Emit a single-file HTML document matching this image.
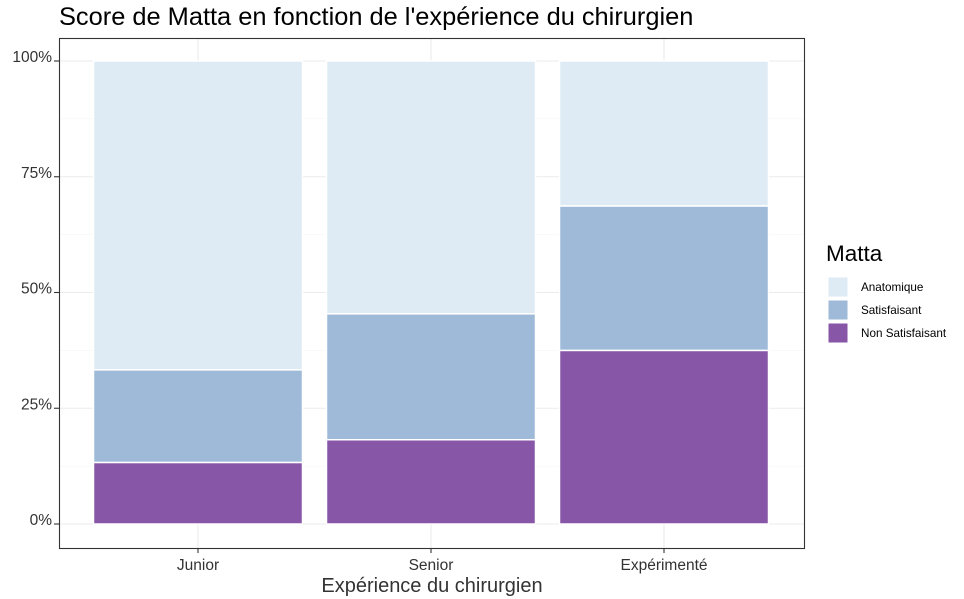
<!DOCTYPE html>
<html><head><meta charset="utf-8"><style>
body{margin:0;background:#fff;}
svg{font-family:"Liberation Sans",sans-serif;display:block}
</style></head><body>
<svg id="chart" width="964" height="599">
<text x="59" y="25" font-size="25.4" fill="#000">Score de Matta en fonction de l'expérience du chirurgien</text>
<g id="grid"></g>
<g id="bars"></g>
<rect x="59.5" y="38.5" width="745" height="510" fill="none" stroke="#333" stroke-width="1.1"/>
<g id="axes"></g>
<text x="432" y="592" font-size="20" fill="#333" text-anchor="middle">Expérience du chirurgien</text>
<g id="legend"></g>
</svg>
<script>
const categories = ["Junior","Senior","Expérimenté"];
const nonSatisfaisant = [13.3, 18.2, 37.5];
const satisfaisant = [20.0, 27.2, 31.2];
const anatomique = [66.7, 54.6, 31.3];
const yTicks = [0,25,50,75,100];
const yTickLabels = ["0%","25%","50%","75%","100%"];
const seriesNames = ["Anatomique","Satisfaisant","Non Satisfaisant"];
const colors = {"Anatomique":"#deebf4","Satisfaisant":"#9ebad8","Non Satisfaisant":"#8856a7"};

const NS="http://www.w3.org/2000/svg";
const y0=524, y100=61, band=233;
const yS=v=>y0-(y0-y100)*v/100;
const xC=i=>198+band*i;
function mk(tag,attrs,parent){const e=document.createElementNS(NS,tag);for(const k in attrs)e.setAttribute(k,attrs[k]);parent.appendChild(e);return e;}
const grid=document.getElementById('grid'),bars=document.getElementById('bars'),axes=document.getElementById('axes'),legend=document.getElementById('legend');
mk('rect',{x:59,y:38,width:745,height:510,fill:'#fff'},grid);
for(let i=0;i<yTicks.length-1;i++){const m=(yTicks[i]+yTicks[i+1])/2;const l=mk('line',{x1:59,x2:804,y1:yS(m),y2:yS(m),stroke:'#f3f3f3','stroke-width':0.6},grid);}
yTicks.forEach((t,i)=>{
 const l=mk('line',{x1:59,x2:804,y1:yS(t),y2:yS(t),stroke:'#ebebeb','stroke-width':1.1},grid);
 
 const tk=mk('line',{x1:54,x2:59,y1:yS(t),y2:yS(t),stroke:'#333','stroke-width':1.1},axes);
 
 const tx=mk('text',{x:52,y:yS(t)+1,'font-size':15.5,fill:'#333','text-anchor':'end'},axes);tx.textContent=yTickLabels[i];
 
});
categories.forEach((c,i)=>{
 const l=mk('line',{x1:xC(i),x2:xC(i),y1:38,y2:548,stroke:'#ebebeb','stroke-width':1.1},grid);
 
 const tk=mk('line',{x1:xC(i),x2:xC(i),y1:548,y2:553,stroke:'#333','stroke-width':1.1},axes);
 
 const tx=mk('text',{x:xC(i),y:570,'font-size':15.5,fill:'#333','text-anchor':'middle'},axes);tx.textContent=c;
 
 const segs=[["Non Satisfaisant",nonSatisfaisant[i]],["Satisfaisant",satisfaisant[i]],["Anatomique",anatomique[i]]];
 let cum=0;
 segs.forEach(([n,v])=>{
  const top=yS(cum+v),bot=yS(cum);
  const r=mk('rect',{x:xC(i)-104.5,y:top,width:209,height:bot-top,fill:colors[n],stroke:'#fff','stroke-width':1.5},bars);
  
  
  cum+=v;
 });
});
const lt=mk('text',{x:826,y:261,'font-size':22.5,fill:'#000'},legend);lt.textContent='Matta';

seriesNames.forEach((n,i)=>{
 const g=mk('g',{},legend);
 
 mk('rect',{x:828,y:277+i*23,width:20,height:20,fill:colors[n],stroke:'#fff','stroke-width':1},g);
 const t=mk('text',{x:861,y:291+i*23,'font-size':11.7,fill:'#000'},g);t.textContent=n;
});
</script>
</body></html>
